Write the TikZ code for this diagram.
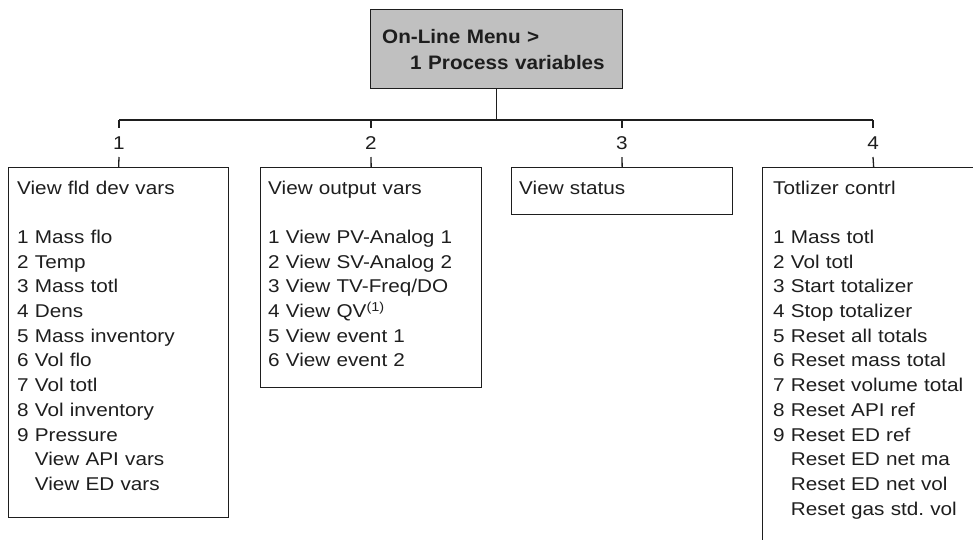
\documentclass[tikz,border=0pt]{standalone}
\usepackage{fontspec}
\newfontfamily\lsans[FakeStretch=1.12]{Liberation Sans}
\newfontfamily\lsanstop[FakeStretch=1.06]{Liberation Sans}
\definecolor{topgray}{RGB}{192,192,192}
\definecolor{ink}{RGB}{30,30,30}
\frenchspacing
\tikzset{
  box/.style={draw=ink, line width=1.3pt, rectangle, inner sep=0pt, anchor=north west},
  txt/.style={text=ink, inner sep=0pt, anchor=base west, text width=212pt, align=left,
    font=\lsans\fontsize{18.5}{24.7}\selectfont},
  num/.style={text=ink, inner sep=7.8pt, anchor=base, font=\lsans\fontsize{18.5}{24.7}\selectfont},
  conn/.style={draw=ink, line width=1.3pt},
}
\begin{document}
\begin{tikzpicture}[x=1pt,y=-1pt]
\useasboundingbox (0,0) rectangle (973,539);
\clip (0,0) rectangle (973,539);
% top box
\node[box, fill=topgray, minimum width=252pt, minimum height=79pt] (top) at (370,9) {};
\node[text=ink, inner sep=0pt, anchor=base west, align=left, text width=235pt,
  font=\lsanstop\bfseries\fontsize{19.5}{26}\selectfont] (toptxt) at (382,43)
  {On-Line Menu >\\\hspace*{28pt}1 Process variables};
% hub coordinates
\coordinate (c1) at (119,120);
\coordinate (c2) at (371,120);
\coordinate (c3) at (622,120);
\coordinate (c4) at (873,120);
\coordinate (hub) at (top.south |- c1);
% number labels
\node[num] (n1) at (119,149) {1};
\node[num] (n2) at (371,149) {2};
\node[num] (n3) at (622,149) {3};
\node[num] (n4) at (873,149) {4};
% boxes
\node[box, minimum width=220pt, minimum height=350pt] (b1) at (8,167) {};
\node[box, minimum width=221pt, minimum height=220pt] (b2) at (260,167) {};
\node[box, minimum width=221pt, minimum height=47pt] (b3) at (511,167) {};
\node[box, minimum width=222pt, minimum height=433pt] (b4) at (762,167) {};
% connectors
\draw[conn] (top.south) -- (hub);
\draw[conn] (c1) -- (c4);
\foreach \i in {1,2,3,4}{
  \draw[conn] (c\i) -- (n\i.north);
  \draw[conn] (n\i.south) -- (b\i.north);
}
% texts
\node[txt] (t1) at ([xshift=9pt,yshift=-27pt]b1.north west)
  {View fld dev vars\\\mbox{}\\
   1 Mass flo\\2 Temp\\3 Mass totl\\4 Dens\\5 Mass inventory\\6 Vol flo\\7 Vol totl\\8 Vol inventory\\9 Pressure\\
   \phantom{1 }View API vars\\\phantom{1 }View ED vars};
\node[txt] (t2) at ([xshift=8pt,yshift=-27pt]b2.north west)
  {View output vars\\\mbox{}\\
   1 View PV-Analog 1\\2 View SV-Analog 2\\3 View TV-Freq/DO\\4 View QV\textsuperscript{(1)}\\5 View event 1\\6 View event 2};
\node[txt] (t3) at ([xshift=8pt,yshift=-27pt]b3.north west)
  {View status};
\node[txt] (t4) at ([xshift=11pt,yshift=-27pt]b4.north west)
  {Totlizer contrl\\\mbox{}\\
   1 Mass totl\\2 Vol totl\\3 Start totalizer\\4 Stop totalizer\\5 Reset all totals\\6 Reset mass total\\7 Reset volume total\\8 Reset API ref\\9 Reset ED ref\\
   \phantom{1 }Reset ED net ma\\\phantom{1 }Reset ED net vol\\\phantom{1 }Reset gas std. vol};
\end{tikzpicture}
\end{document}
